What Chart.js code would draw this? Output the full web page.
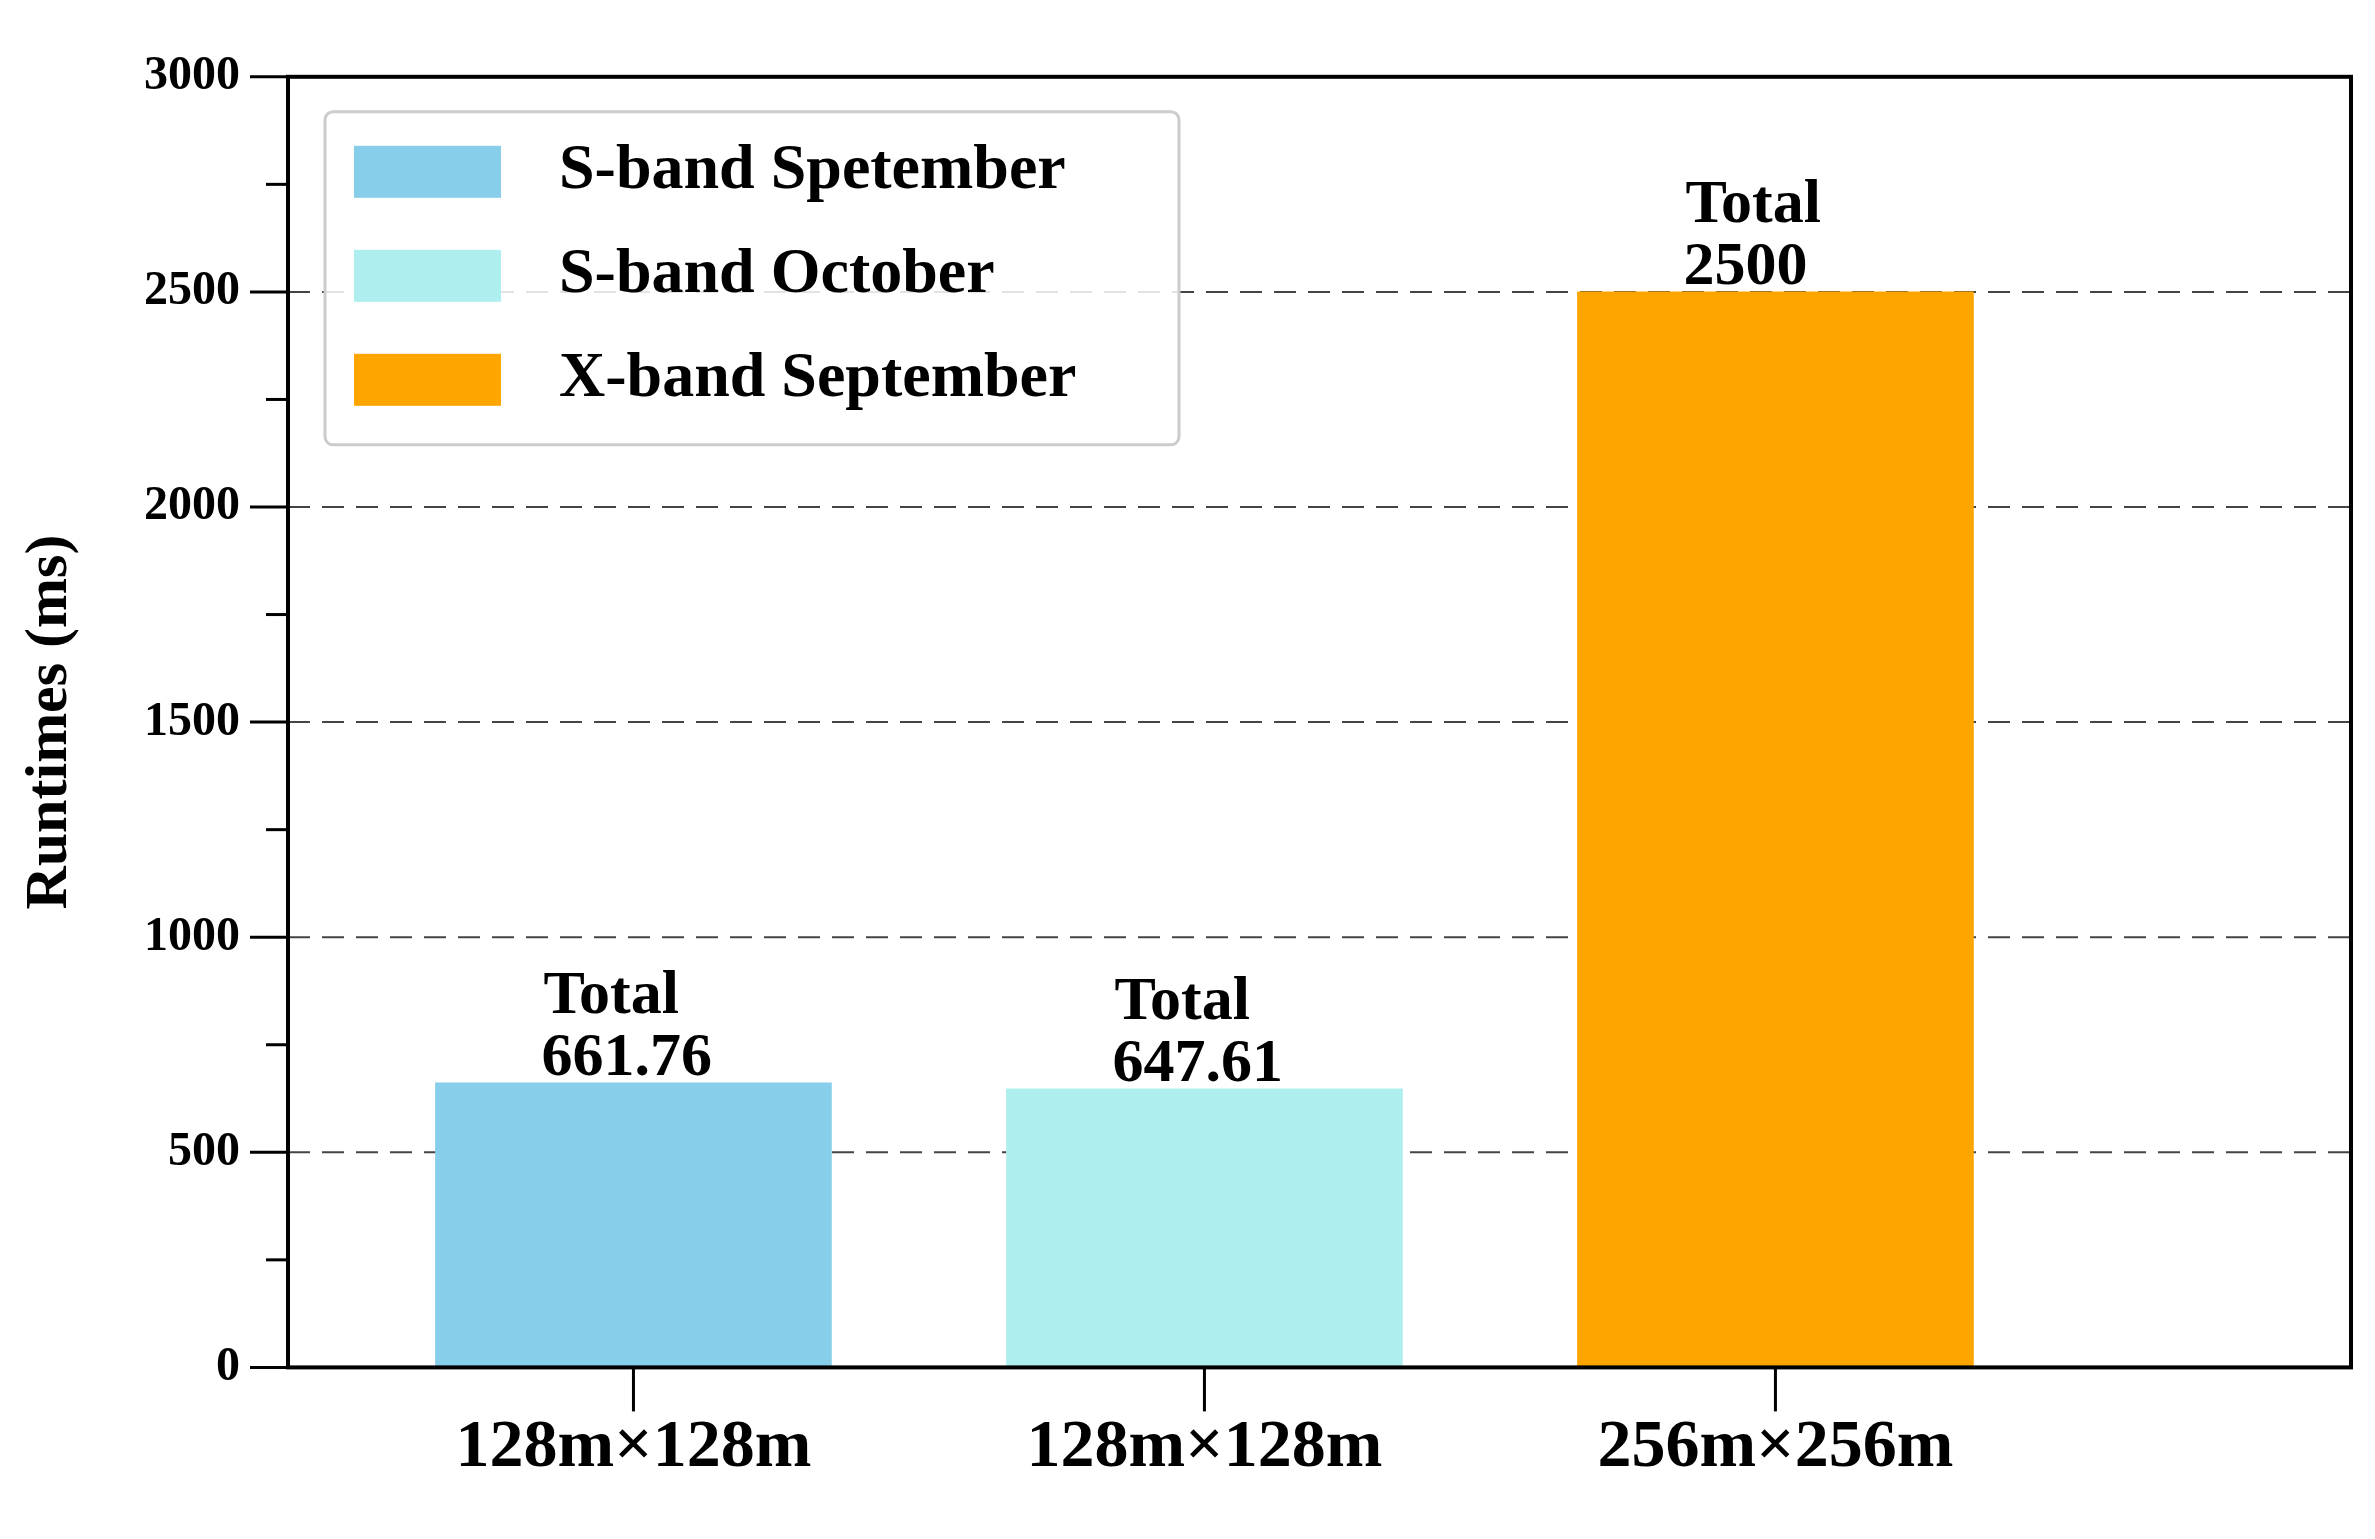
<!DOCTYPE html>
<html>
<head>
<meta charset="utf-8">
<script src="https://cdn.jsdelivr.net/npm/chart.js@4/dist/chart.umd.min.js"></script>
<style>
  html, body { margin: 0; padding: 0; background: #fff; }
  #wrap { width: 2375px; height: 1539px; }
</style>
</head>
<body>
<div id="wrap"><canvas id="c"></canvas></div>
<script>
// chart values
const categories = ['128m\u00d7128m', '128m\u00d7128m', '256m\u00d7256m'];
const seriesNames = ['S-band Spetember', 'S-band October', 'X-band September'];
const seriesValues = [661.76, 647.61, 2500];
const totalLabels = ['661.76', '647.61', '2500'];
const seriesColors = ['#87ceeb', '#afeeee', '#ffa500'];
const yTicks = [0, 500, 1000, 1500, 2000, 2500, 3000];

const FONT = "'Liberation Serif', 'DejaVu Serif', serif";

// axis frame, minor ticks, dashed grid
const framePlugin = {
  id: 'frame',
  beforeDatasetsDraw(chart) {
    const { ctx, chartArea: a, scales: { y } } = chart;
    ctx.save();
    ctx.setLineDash([22, 12]);
    ctx.strokeStyle = '#444';
    ctx.lineWidth = 2;
    for (const v of yTicks) {
      if (v === 0 || v === 3000) continue;
      const py = y.getPixelForValue(v);
      ctx.beginPath(); ctx.moveTo(a.left, py); ctx.lineTo(a.right, py); ctx.stroke();
    }
    ctx.restore();
  },
  afterDatasetsDraw(chart) {
    const { ctx, chartArea: a, scales: { x, y } } = chart;
    ctx.save();
    ctx.strokeStyle = '#000';
    ctx.lineWidth = 4;
    ctx.strokeRect(a.left, a.top, a.right - a.left, a.bottom - a.top);
    ctx.lineWidth = 3;
    for (let v = 0; v <= 3000; v += 250) {
      const py = y.getPixelForValue(v);
      const len = v % 500 === 0 ? 38 : 22;
      ctx.beginPath(); ctx.moveTo(a.left - len, py); ctx.lineTo(a.left, py); ctx.stroke();
    }
    for (let i = 0; i < categories.length; i++) {
      const px = x.getPixelForValue(i);
      ctx.beginPath(); ctx.moveTo(px, a.bottom); ctx.lineTo(px, a.bottom + 44); ctx.stroke();
    }
    // total labels above bars
    ctx.fillStyle = '#000';
    ctx.font = 'bold 62px ' + FONT;
    ctx.textAlign = 'left';
    ctx.textBaseline = 'alphabetic';
    seriesValues.forEach((v, i) => {
      const px = x.getPixelForValue(i) - 90;
      const py = y.getPixelForValue(v);
      ctx.fillText('Total', px, py - 70);
      ctx.fillText(totalLabels[i], px - 2, py - 8);
    });
    // legend box
    const lx = a.left + 37, ly = a.top + 35, lw = 854, lh = 333;
    ctx.fillStyle = 'rgba(255,255,255,0.85)';
    ctx.strokeStyle = '#ccc';
    ctx.lineWidth = 3;
    ctx.beginPath(); ctx.roundRect(lx, ly, lw, lh, 8); ctx.fill(); ctx.stroke();
    ctx.textBaseline = 'middle';
    ctx.font = 'bold 64px ' + FONT;
    seriesNames.forEach((n, i) => {
      const ry = ly + 60 + i * 104;
      ctx.fillStyle = seriesColors[i];
      ctx.fillRect(lx + 29, ry - 26, 147, 52);
      ctx.fillStyle = '#000';
      ctx.fillText(n, lx + 234, ry);
    });
    ctx.restore();
  }
};

new Chart(document.getElementById('c'), {
  type: 'bar',
  data: {
    datasets: seriesNames.map((n, i) => ({
      label: n,
      data: [{ x: i, y: seriesValues[i] }],
      backgroundColor: seriesColors[i],
      barThickness: 396,
      grouped: false
    }))
  },
  options: {
    responsive: true,
    maintainAspectRatio: false,
    animation: false,
    layout: { padding: { top: 50, right: 24, left: 10, bottom: 10 } },
    plugins: { legend: { display: false }, tooltip: { enabled: false } },
    scales: {
      x: {
        type: 'linear',
        offset: false,
        min: -0.605,
        max: 3.008,
        afterBuildTicks(s) { s.ticks = categories.map((c, i) => ({ value: i })); },
        ticks: {
          callback: (v) => categories[v],
          color: '#000',
          font: { family: FONT, size: 68, weight: 'bold' },
          padding: 40,
          maxRotation: 0,
          autoSkip: false
        },
        grid: { display: false, drawTicks: false },
        border: { display: false }
      },
      y: {
        min: 0,
        max: 3000,
        afterBuildTicks(s) { s.ticks = yTicks.map(v => ({ value: v })); },
        ticks: {
          callback: (v) => String(v),
          color: '#000',
          font: { family: FONT, size: 48, weight: 'bold' },
          padding: 48
        },
        title: {
          display: true,
          text: 'Runtimes (ms)',
          color: '#000',
          font: { family: FONT, size: 60, weight: 'bold' },
          padding: { bottom: 10 }
        },
        grid: { display: false, drawTicks: false },
        border: { display: false }
      }
    }
  },
  plugins: [framePlugin]
});
</script>
</body>
</html>
